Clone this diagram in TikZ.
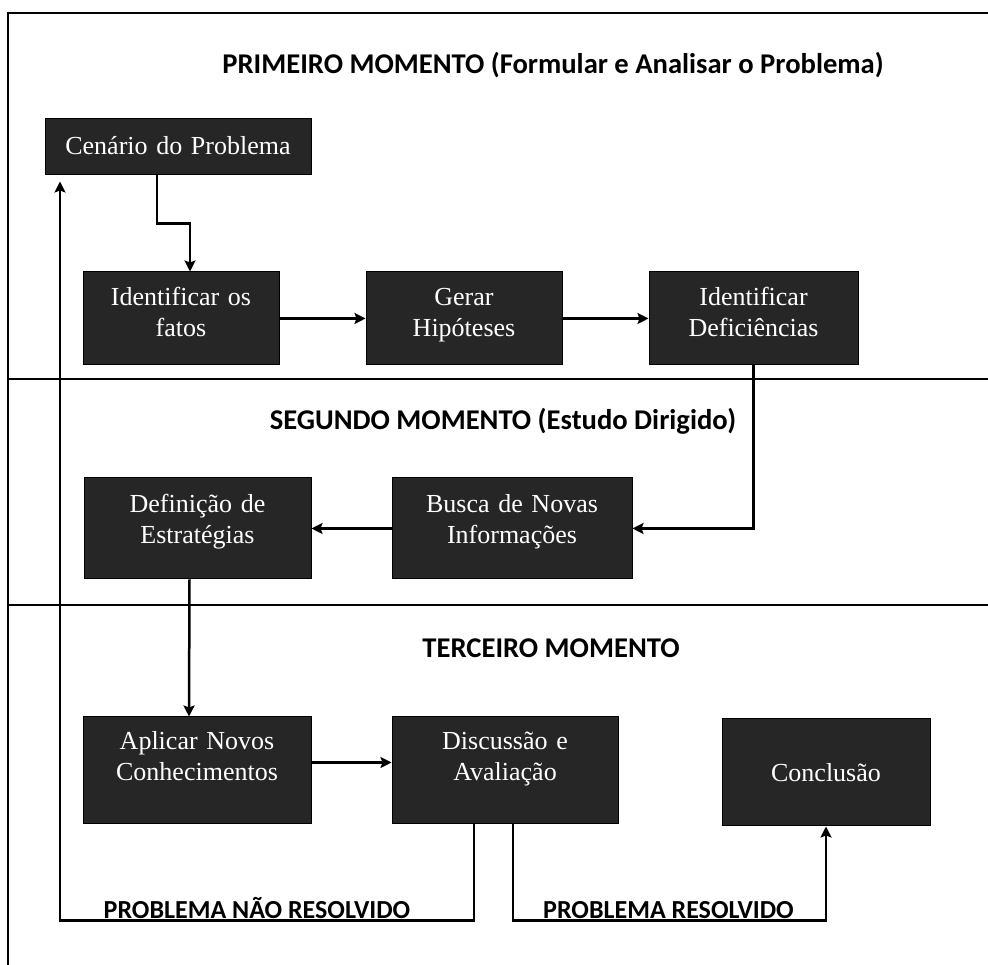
\documentclass[tikz,border=0pt]{standalone}
\usepackage{fontspec}
\usepackage{xcolor}
\usepackage{tikz}
\usetikzlibrary{arrows.meta, positioning}
\newfontfamily\fontecaixa{Liberation Serif}
\newfontfamily\fontetitulo{Carlito}
\definecolor{caixaescura}{RGB}{38,38,38}

\begin{document}
\begin{tikzpicture}[
    x=1pt, y=1pt,
    bloco/.style={
        rectangle,
        draw=black,
        fill=caixaescura,
        line width=1pt,
        text=white,
        inner sep=0pt,
        align=center,
        font=\fontecaixa\fontsize{26}{31}\selectfont
    },
    momento/.style={
        anchor=base,
        inner sep=0pt,
        font=\fontetitulo\bfseries\fontsize{28.6}{34}\selectfont
    },
    rotulo/.style={
        anchor=base,
        inner sep=0pt,
        font=\fontetitulo\bfseries\fontsize{26}{31}\selectfont
    },
    seta/.style={
        line width=2.5pt,
        -{Stealth[length=11pt, width=11pt, inset=2pt]}
    },
    divisa/.style={line width=1.4pt}
]
\useasboundingbox (0,0) rectangle (988,965);

% moldura e faixas dos momentos
\draw[divisa] (988,952) -- (8,952) -- (8,0);
\draw[divisa] (8,586) -- (988,586);
\draw[divisa] (8,360) -- (988,360);

\node[momento] (primeiro) at (553,891) {PRIMEIRO MOMENTO (Formular e Analisar o Problema)};
\node[momento] (segundo) at (503,535) {SEGUNDO MOMENTO (Estudo Dirigido)};
\node[momento] (terceiro) at (551,307) {TERCEIRO MOMENTO};

% primeiro momento
\node[bloco, text width=266pt, text height=36pt, text depth=20pt] (cenario) at (178,818) {Cenário do Problema};
\node[bloco, text width=196pt, text height=34pt, text depth=59pt] (fatos) at (181,646.5) {Identificar os\\fatos};
\node[bloco, text width=196pt, text height=34pt, text depth=59pt] (gerar) at (464,646.5) {Gerar\\Hipóteses};
\node[bloco, text width=209pt, text height=34pt, text depth=59pt] (deficiencias) at (753.5,646.5) {Identificar\\Deficiências};

% segundo momento
\node[bloco, text width=227pt, text height=35pt, text depth=66pt] (definicao) at (197.5,436.5) {Definição de\\Estratégias};
\node[bloco, text width=240pt, text height=35pt, text depth=66pt] (busca) at (512,436.5) {Busca de Novas\\Informações};

% terceiro momento
\node[bloco, text width=228pt, text height=33pt, text depth=74pt] (aplicar) at (197,194.5) {Aplicar Novos\\Conhecimentos};
\node[bloco, text width=226pt, text height=33pt, text depth=74pt] (discussao) at (505,194.5) {Discussão e\\Avaliação};
\node[bloco, text width=208pt, text height=63pt, text depth=44pt] (conclusao) at (826,192.5) {Conclusão};

\draw[seta] ([xshift=-21pt]cenario.south) -- ++(0,-48) -| ([xshift=9pt]fatos.north);
\draw[seta] (fatos.east) -- (gerar.west);
\draw[seta] (gerar.east) -- (deficiencias.west);
\draw[seta] (deficiencias.south) |- (busca.east);
\draw[seta] (busca.west) -- (definicao.east);
\draw[seta] ([xshift=-8pt]definicao.south) -- ([xshift=-8pt]aplicar.north);
\draw[seta] ([yshift=8pt]aplicar.east) -- ([yshift=8pt]discussao.west);
\draw[seta, shorten >=6pt] ([xshift=-31pt]discussao.south) -- ++(0,-96) -| ([xshift=-118pt]cenario.south);
\draw[seta] ([xshift=8pt]discussao.south) -- ++(0,-96) -| (conclusao.south);

\node[rotulo] (naoresolvido) at (257,46) {PROBLEMA NÃO RESOLVIDO};
\node[rotulo] (resolvido) at (668.5,46) {PROBLEMA RESOLVIDO};
\end{tikzpicture}
\end{document}
